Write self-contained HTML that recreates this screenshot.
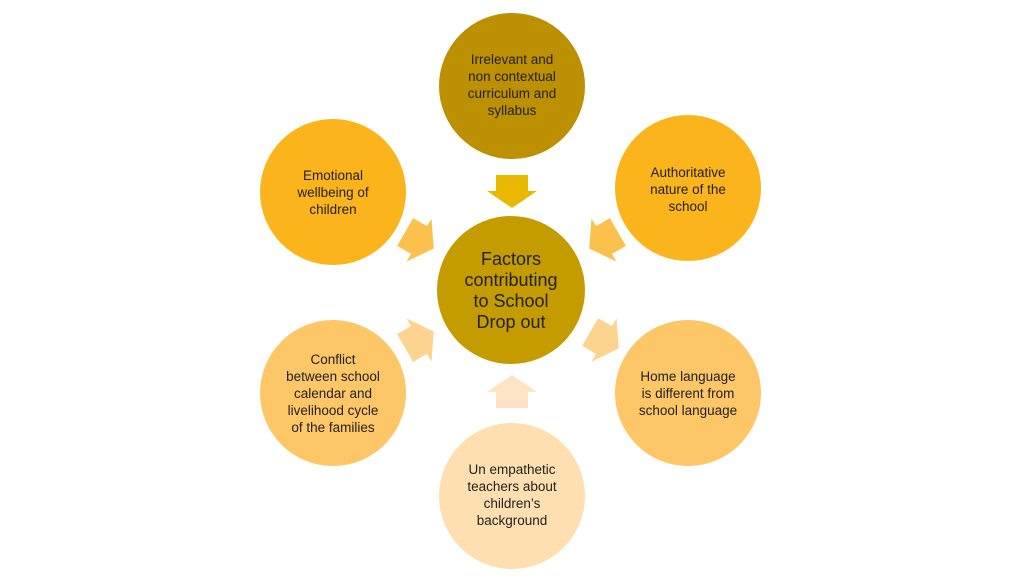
<!DOCTYPE html>
<html><head><style>
body{margin:0;width:1024px;height:576px;background:#fff;overflow:hidden}
svg text{font-family:"Liberation Sans",sans-serif;font-size:13.5px;fill:#222;text-anchor:middle}
</style></head><body>
<svg width="1024" height="576" viewBox="0 0 1024 576">
<defs><polygon id="ar" points="-16,-16 0,-16 0,-25 17,0 0,25 0,16 -16,16"/></defs>
<circle cx="512" cy="86" r="73" fill="#BC9000"/>
<circle cx="333" cy="192" r="73" fill="#FBB41B"/>
<circle cx="688" cy="188" r="73" fill="#FBB41B"/>
<circle cx="333" cy="393" r="73" fill="#FDC666"/>
<circle cx="688" cy="393" r="73" fill="#FDC666"/>
<circle cx="512" cy="496" r="73" fill="#FEDFB0"/>
<circle cx="511" cy="290" r="74" fill="#C59C00"/>
<use href="#ar" fill="#E9B800" transform="translate(512,191) rotate(90)"/>
<use href="#ar" fill="#FBC14C" transform="translate(419,240) rotate(30)"/>
<use href="#ar" fill="#FBC14C" transform="translate(604,240) rotate(150)"/>
<use href="#ar" fill="#FDD390" transform="translate(419,340) rotate(-30)"/>
<use href="#ar" fill="#FDD390" transform="translate(604,340) rotate(30)"/>
<use href="#ar" fill="#FEE4C4" transform="translate(512,392) rotate(-90)"/>
<text x="512" y="64">Irrelevant and</text><text x="512" y="81">non contextual</text><text x="512" y="98">curriculum and</text><text x="512" y="115">syllabus</text>
<text x="333" y="180">Emotional</text><text x="333" y="197">wellbeing of</text><text x="333" y="214">children</text>
<text x="688" y="177">Authoritative</text><text x="688" y="194">nature of the</text><text x="688" y="211">school</text>
<text x="511" y="265" style="font-size:18px">Factors</text><text x="511" y="286" style="font-size:18px">contributing</text><text x="511" y="307" style="font-size:18px">to School</text><text x="511" y="328" style="font-size:18px">Drop out</text>
<text x="333" y="364">Conflict</text><text x="333" y="381">between school</text><text x="333" y="398">calendar and</text><text x="333" y="415">livelihood cycle</text><text x="333" y="432">of the families</text>
<text x="688" y="381">Home language</text><text x="688" y="398">is different from</text><text x="688" y="415">school language</text>
<text x="512" y="474">Un empathetic</text><text x="512" y="491">teachers about</text><text x="512" y="508">children’s</text><text x="512" y="525">background</text>
</svg>
</body></html>
